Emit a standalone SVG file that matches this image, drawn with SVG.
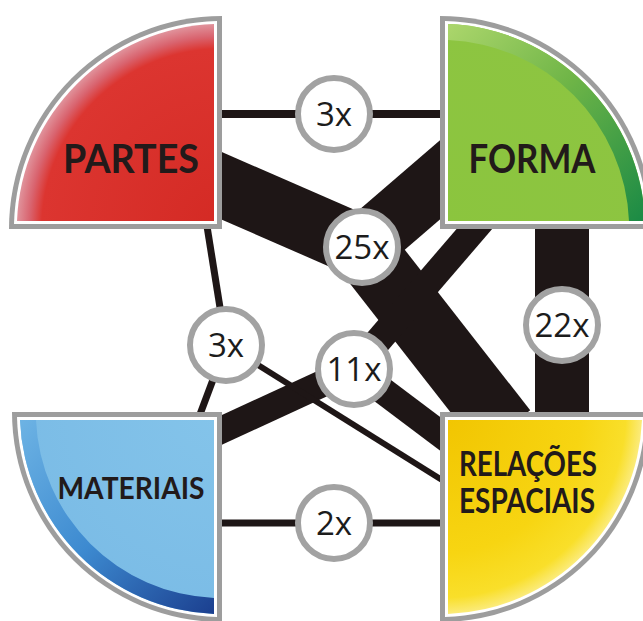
<svg xmlns="http://www.w3.org/2000/svg" width="643" height="621" viewBox="0 0 643 621">
<defs>
<style>
.band{stroke:#1e1616;fill:none;stroke-linecap:butt}
.ring{fill:#ffffff;stroke:#a2a2a2;stroke-width:6}
.cnt{font-family:"Open Sans","Noto Sans",sans-serif;font-size:33px;fill:#1c1c1c;text-anchor:middle}
.lbl{font-family:"Lato","Open Sans",sans-serif;font-weight:700;fill:#221a1a;text-anchor:middle}
.gray{fill:#9d9d9d}
.white{fill:#ffffff}
</style>
<radialGradient id="gP" gradientUnits="userSpaceOnUse" cx="222" cy="229" r="205">
<stop offset="0" stop-color="#d42a24"/><stop offset="0.88" stop-color="#dc3530"/><stop offset="0.94" stop-color="#d9646f"/><stop offset="1" stop-color="#e0929b"/>
</radialGradient>
<radialGradient id="gF" gradientUnits="userSpaceOnUse" cx="440" cy="229" r="205">
<stop offset="0" stop-color="#8bc53e"/><stop offset="1" stop-color="#8dc541"/>
</radialGradient>
<linearGradient id="rF" gradientUnits="userSpaceOnUse" x1="448" y1="24" x2="645" y2="221">
<stop offset="0" stop-color="#acd66c"/><stop offset="0.45" stop-color="#6fb547"/><stop offset="1" stop-color="#1a8a45"/>
</linearGradient>
<radialGradient id="gM" gradientUnits="userSpaceOnUse" cx="222" cy="412" r="202">
<stop offset="0" stop-color="#84c4ea"/><stop offset="1" stop-color="#7bbce6"/>
</radialGradient>
<linearGradient id="rM" gradientUnits="userSpaceOnUse" x1="20" y1="420" x2="214" y2="614">
<stop offset="0" stop-color="#6db3e4"/><stop offset="0.5" stop-color="#3d8ad0"/><stop offset="1" stop-color="#1b3f8f"/>
</linearGradient>
<radialGradient id="gR" gradientUnits="userSpaceOnUse" cx="440" cy="412" r="202">
<stop offset="0" stop-color="#f1c400"/><stop offset="0.7" stop-color="#f7d512"/><stop offset="0.92" stop-color="#f9df2a"/><stop offset="1" stop-color="#fbeb7a"/>
</radialGradient>
</defs>
<rect width="643" height="621" fill="#ffffff"/>
<g id="connectors">
<line class="band" x1="215" y1="114" x2="447" y2="114" stroke-width="8"/>
<line class="band" x1="215" y1="523" x2="447" y2="523" stroke-width="7"/>
<line class="band" x1="562" y1="220" x2="562" y2="420" stroke-width="54"/>
<line class="band" x1="190" y1="172" x2="362" y2="247" stroke-width="62"/>
<line class="band" x1="470" y1="154" x2="362" y2="247" stroke-width="60"/>
<line class="band" x1="362" y1="247" x2="505" y2="430" stroke-width="64"/>
<line class="band" x1="200" y1="440" x2="354" y2="369" stroke-width="27"/>
<line class="band" x1="354" y1="369" x2="495" y2="205" stroke-width="27"/>
<line class="band" x1="354" y1="369" x2="455" y2="445" stroke-width="27"/>
<line class="band" x1="206" y1="220" x2="226" y2="345" stroke-width="7"/>
<line class="band" x1="226" y1="345" x2="196" y2="425" stroke-width="7"/>
<line class="band" x1="226" y1="345" x2="450" y2="485" stroke-width="6"/>
<g id="c-pf"><circle class="ring" cx="334" cy="114" r="36"/><text class="cnt" x="334" y="126">3x</text></g>
<g id="c-mr"><circle class="ring" cx="334" cy="523" r="36"/><text class="cnt" x="334" y="535">2x</text></g>
<g id="c-25"><circle class="ring" cx="362" cy="247" r="36"/><text class="cnt" x="362" y="259">25x</text></g>
<g id="c-11"><circle class="ring" cx="354" cy="369" r="36"/><text class="cnt" x="354" y="381">11x</text></g>
<g id="c-3l"><circle class="ring" cx="226" cy="345" r="36"/><text class="cnt" x="226" y="357">3x</text></g>
<g id="c-22"><circle class="ring" cx="562" cy="325" r="36"/><text class="cnt" x="562" y="337">22x</text></g>
</g>
<g id="partes">
<path class="gray" d="M222,229 H9 A213,213 0 0 1 222,16 Z"/>
<path class="white" d="M217,224 H14 A208,208 0 0 1 217,21 Z"/>
<path fill="url(#gP)" d="M214,221 H17 A205,205 0 0 1 214,24 Z"/>
<text class="lbl" x="131" y="173" font-size="40" textLength="136" lengthAdjust="spacingAndGlyphs">PARTES</text>
</g>
<g id="forma">
<path class="gray" d="M440,229 H653 A213,213 0 0 0 440,16 Z"/>
<path class="white" d="M445,224 H648 A208,208 0 0 0 445,21 Z"/>
<path fill="url(#gF)" d="M448,221 H645 A205,205 0 0 0 448,24 Z"/>
<path fill="url(#rF)" d="M645,221 A205,205 0 0 0 448,24 V40 A189,189 0 0 1 629,221 Z"/>
<text class="lbl" x="532" y="173" font-size="40" textLength="127" lengthAdjust="spacingAndGlyphs">FORMA</text>
</g>
<g id="materiais">
<path class="gray" d="M222,412 H12 A210,210 0 0 0 222,622 Z"/>
<path class="white" d="M217,417 H17 A205,205 0 0 0 217,617 Z"/>
<path fill="url(#gM)" d="M214,420 H20 A202,202 0 0 0 214,614 Z"/>
<path fill="url(#rM)" d="M20,420 A202,202 0 0 0 214,614 V598 A186,186 0 0 1 36,420 Z"/>
<text class="lbl" x="131" y="499" font-size="30" textLength="147" lengthAdjust="spacingAndGlyphs">MATERIAIS</text>
</g>
<g id="relacoes">
<path class="gray" d="M440,412 H650 A210,210 0 0 1 440,622 Z"/>
<path class="white" d="M445,417 H645 A205,205 0 0 1 445,617 Z"/>
<path fill="url(#gR)" d="M448,420 H642 A202,202 0 0 1 448,614 Z"/>
<text class="lbl" x="528" y="476" font-size="34" textLength="138" lengthAdjust="spacingAndGlyphs">RELAÇÕES</text>
<text class="lbl" x="527" y="513" font-size="34" textLength="136" lengthAdjust="spacingAndGlyphs">ESPACIAIS</text>
</g>
</svg>
